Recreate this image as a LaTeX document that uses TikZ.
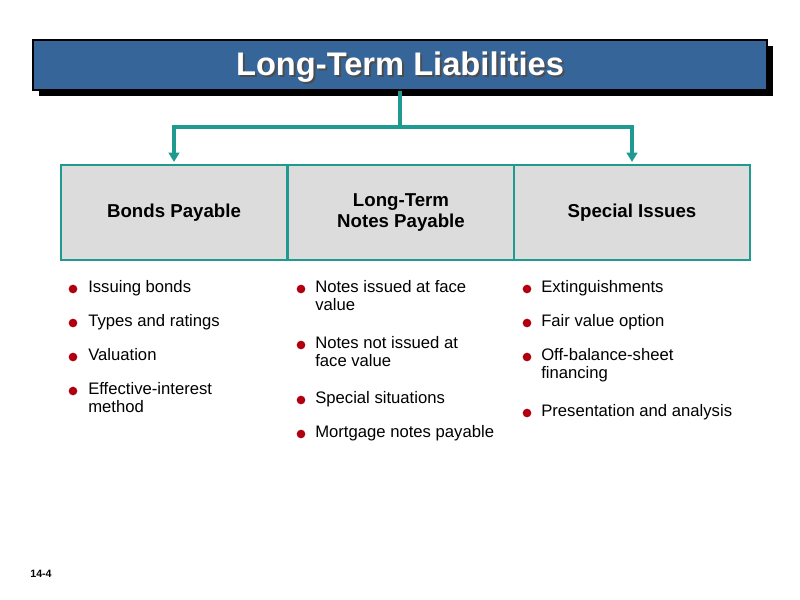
\documentclass[tikz,border=0pt]{standalone}
\usepackage{fontspec}
\setmainfont{Liberation Sans}
\usetikzlibrary{arrows.meta}
\definecolor{titleblue}{HTML}{366699}
\definecolor{teal1}{HTML}{1E9A90}
\definecolor{boxgray}{HTML}{DCDCDC}
\definecolor{dotred}{HTML}{B00010}
\tikzset{
 catbox/.style={draw=teal1,line width=1.6pt,fill=boxgray,minimum width=226\px,minimum height=95\px,font=\fontsize{14}{16}\selectfont\bfseries,align=center,inner sep=0},
 conn/.style={draw=teal1,line width=2.4pt},
 arr/.style={conn,-{Triangle[length=7pt,width=8pt]}},
 item/.style={anchor=north west,font=\fontsize{12.5}{13.5}\selectfont,align=left,inner sep=0},
 dot/.style={circle,fill=dotred,inner sep=0,minimum size=6.5pt}
}
\newlength{\px}\setlength{\px}{0.75pt}
\begin{document}
\begin{tikzpicture}[x=0.75pt,y=-0.75pt]
\useasboundingbox (0,0) rectangle (800,600);
\fill[black] (39,46) rectangle (773,96);
\node[draw=black,line width=0.8pt,fill=titleblue,minimum width=734\px,minimum height=50\px,inner sep=0] (title) at (400,65) {};
\node[text=black!70,font=\fontsize{24.5}{28}\selectfont\bfseries] at (402,69) {Long-Term Liabilities};
\node[text=white,font=\fontsize{24.5}{28}\selectfont\bfseries] at (400,67) {Long-Term Liabilities};
\node[catbox] (b1) at (174,212.5) {Bonds Payable};
\node[catbox] (b2) at (401,212.5) {Long-Term\\Notes Payable};
\node[catbox,minimum width=236\px] (b3) at (632,212.5) {Special Issues};
\coordinate (j) at (400,127);
\draw[conn] (title.south) -- (j);
\draw[arr] (j) -| ([yshift=2\px]b1.north);
\draw[arr] (j) -| ([yshift=2\px]b3.north);
\foreach \y/\t in {280/Issuing bonds,314/Types and ratings,348/Valuation,382/{Effective-interest\\method}}{
 \node[dot] at (73,\y+9) {}; \node[item] at (88,\y) {\t};}
\foreach \y/\t in {280/{Notes issued at face\\value},336/{Notes not issued at\\face value},391/Special situations,425/Mortgage notes payable}{
 \node[dot] at (301,\y+9) {}; \node[item] at (315,\y) {\t};}
\foreach \y/\t in {280/Extinguishments,314/Fair value option,348/{Off-balance-sheet\\financing},404/Presentation and analysis}{
 \node[dot] at (527,\y+9) {}; \node[item] at (541,\y) {\t};}
\node[font=\fontsize{8}{9}\selectfont\bfseries] (pg) at (41,574) {14-4};
\end{tikzpicture}
\end{document}
